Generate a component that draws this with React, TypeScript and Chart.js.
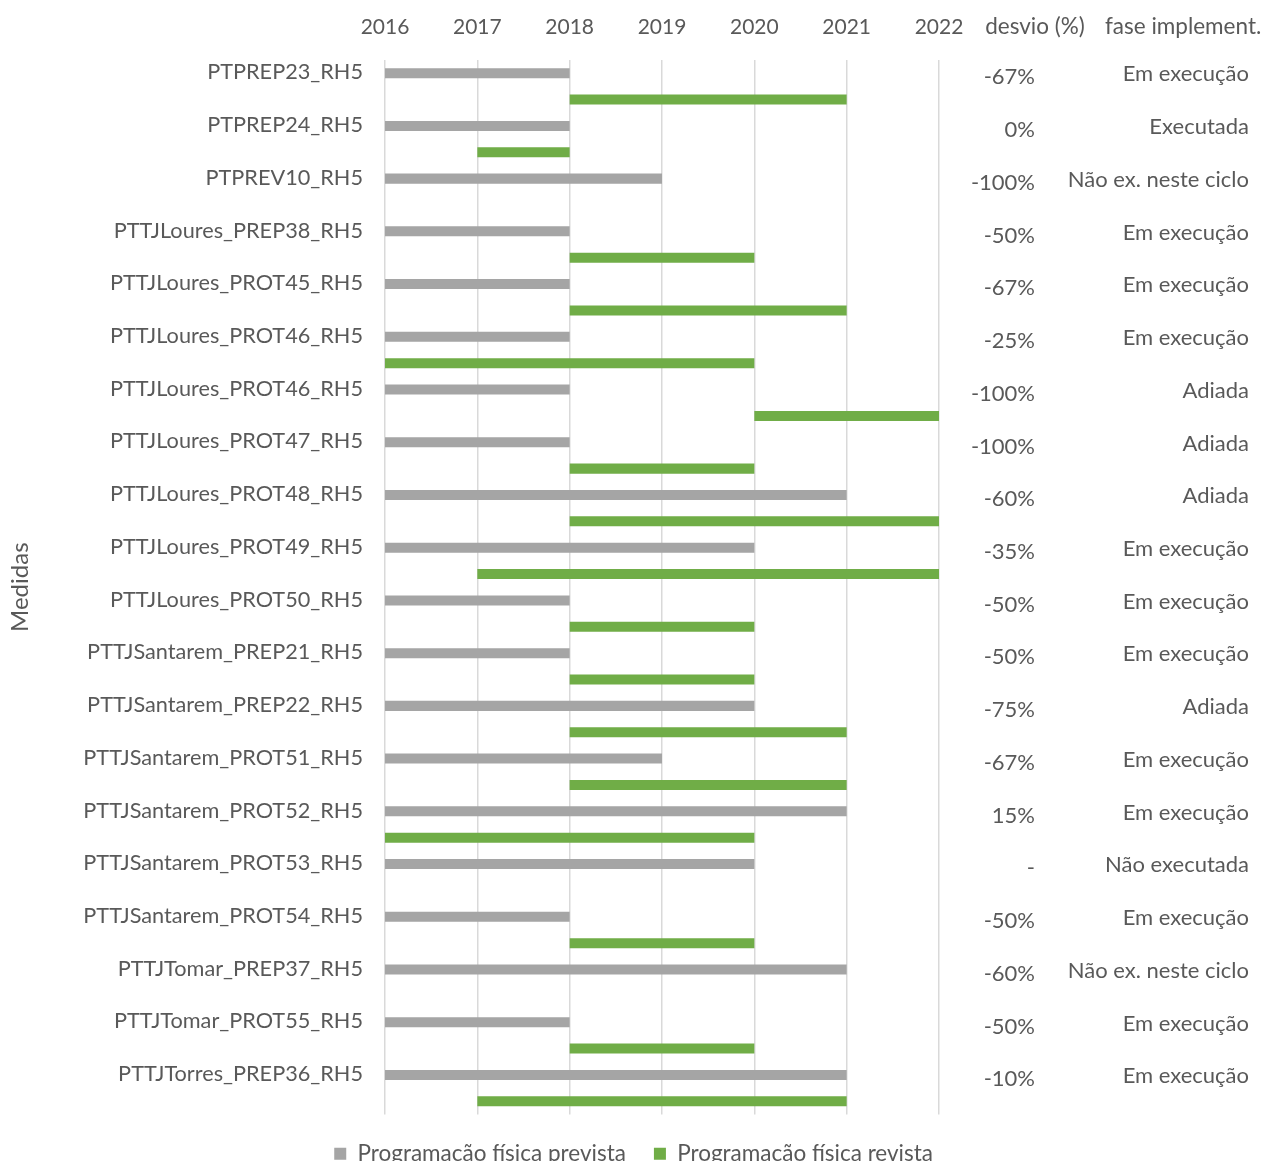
import { useEffect, useRef } from "react";
import { Chart, registerables } from "chart.js";
Chart.register(...registerables);

const categories = [
  "PTPREP23_RH5",
  "PTPREP24_RH5",
  "PTPREV10_RH5",
  "PTTJLoures_PREP38_RH5",
  "PTTJLoures_PROT45_RH5",
  "PTTJLoures_PROT46_RH5",
  "PTTJLoures_PROT46_RH5 ",
  "PTTJLoures_PROT47_RH5",
  "PTTJLoures_PROT48_RH5",
  "PTTJLoures_PROT49_RH5",
  "PTTJLoures_PROT50_RH5",
  "PTTJSantarem_PREP21_RH5",
  "PTTJSantarem_PREP22_RH5",
  "PTTJSantarem_PROT51_RH5",
  "PTTJSantarem_PROT52_RH5",
  "PTTJSantarem_PROT53_RH5",
  "PTTJSantarem_PROT54_RH5",
  "PTTJTomar_PREP37_RH5",
  "PTTJTomar_PROT55_RH5",
  "PTTJTorres_PREP36_RH5",
];

const previstaStart = [2016, 2016, 2016, 2016, 2016, 2016, 2016, 2016, 2016, 2016, 2016, 2016, 2016, 2016, 2016, 2016, 2016, 2016, 2016, 2016];
const previstaEnd = [2018, 2018, 2019, 2018, 2018, 2018, 2018, 2018, 2021, 2020, 2018, 2018, 2020, 2019, 2021, 2020, 2018, 2021, 2018, 2021];

const revistaStart: (number | null)[] = [2018, 2017, null, 2018, 2018, 2016, 2020, 2018, 2018, 2017, 2018, 2018, 2018, 2018, 2016, null, 2018, null, 2018, 2017];
const revistaEnd: (number | null)[] = [2021, 2018, null, 2020, 2021, 2020, 2022, 2020, 2022, 2022, 2020, 2020, 2021, 2021, 2020, null, 2020, null, 2020, 2021];

const desvio = ["-67%", "0%", "-100%", "-50%", "-67%", "-25%", "-100%", "-100%", "-60%", "-35%", "-50%", "-50%", "-75%", "-67%", "15%", "-", "-50%", "-60%", "-50%", "-10%"];

const fase = [
  "Em execução", "Executada", "Não ex. neste ciclo", "Em execução", "Em execução",
  "Em execução", "Adiada", "Adiada", "Adiada", "Em execução",
  "Em execução", "Em execução", "Adiada", "Em execução", "Em execução",
  "Não executada", "Em execução", "Não ex. neste ciclo", "Em execução", "Em execução",
];

const yearMin = 2016;
const yearMax = 2022;

const seriesNames = ["Programação física prevista", "Programação física revista"];
const headerDesvio = "desvio (%)";
const headerFase = "fase implement.";
const axisTitle = "Medidas";

const FONT = "Lato, 'Open Sans', sans-serif";
const TEXT = "#595959";
const GREY = "#A5A5A5";
const GREEN = "#70AD47";

const W = 1263;
const VIEW_H = 1161;
const CANVAS_H = 1175;

const columnsPlugin = {
  id: "columns",
  afterDraw(chart: any) {
    const ctx = chart.ctx;
    const y = chart.scales.y;
    ctx.save();
    ctx.fillStyle = TEXT;
    ctx.font = `22.5px ${FONT}`;
    ctx.textBaseline = "middle";
    ctx.textAlign = "center";
    ctx.fillText(headerDesvio, 1035, 27);
    ctx.textAlign = "left";
    ctx.fillText(headerFase, 1105, 27);
    ctx.font = `22px ${FONT}`;
    for (let i = 0; i < categories.length; i++) {
      const py = y.getPixelForValue(i);
      ctx.textAlign = "right";
      ctx.fillText(desvio[i], 1035, py - 9);
      ctx.fillText(fase[i], 1249, py - 12);
    }
    ctx.restore();
  },
};

export default function App() {
  const ref = useRef<HTMLCanvasElement | null>(null);
  useEffect(() => {
    if (!ref.current) return;
    const chart = new Chart(ref.current, {
      type: "bar",
      data: {
        labels: categories,
        datasets: [
          {
            label: seriesNames[0],
            data: previstaStart.map((s, i) => [s, previstaEnd[i]]) as any,
            backgroundColor: GREY,
          },
          {
            label: seriesNames[1],
            data: revistaStart.map((s, i) => (s === null || revistaEnd[i] === null ? null : [s, revistaEnd[i]])) as any,
            backgroundColor: GREEN,
          },
        ],
      },
      options: {
        indexAxis: "y",
        animation: false,
        responsive: false,
        maintainAspectRatio: false,
        devicePixelRatio: 1,
        layout: { padding: { left: 0, right: 302, top: 0, bottom: 0 } },
        datasets: { bar: { categoryPercentage: 1.0, barPercentage: 0.38 } },
        scales: {
          x: {
            type: "linear",
            position: "top",
            min: yearMin,
            max: yearMax,
            ticks: {
              stepSize: 1,
              color: TEXT,
              font: { family: FONT, size: 21 },
              padding: 20,
              callback: (v: any) => String(v),
            },
            grid: { color: "#D9D9D9", drawTicks: false, lineWidth: 1.5 },
            border: { display: false },
            afterFit: (s: any) => {
              s.height = 60;
            },
          },
          y: {
            type: "category",
            ticks: {
              color: TEXT,
              font: { family: FONT, size: 21.7 },
              padding: 22,
              labelOffset: -14,
              autoSkip: false,
              callback: (_v: any, i: number) => categories[i].trim(),
            },
            grid: { display: false, drawTicks: false },
            border: { display: false },
            title: {
              display: true,
              text: axisTitle,
              color: TEXT,
              font: { family: FONT, size: 24 },
              padding: { top: 6, bottom: 0 },
            },
            afterFit: (s: any) => {
              s.width = 385;
            },
          },
          ySpacer: {
            type: "category",
            position: "right",
            ticks: { display: false },
            grid: { display: false, drawTicks: false },
            border: { display: false },
            afterFit: (s: any) => {
              s.width = 22;
            },
          },
        },
        plugins: {
          legend: {
            position: "bottom",
            align: "end",
            labels: {
              color: TEXT,
              font: { family: FONT, size: 22.5 },
              boxWidth: 12,
              boxHeight: 12,
              padding: 28,
            },
          },
          tooltip: { enabled: false },
        },
      },
      plugins: [columnsPlugin],
    });
    return () => chart.destroy();
  }, []);
  return (
    <div style={{ position: "absolute", left: 0, top: 0, width: W, height: VIEW_H, overflow: "hidden", background: "#fff" }}>
      <canvas ref={ref} width={W} height={CANVAS_H} style={{ display: "block", width: W, height: CANVAS_H }} />
    </div>
  );
}
